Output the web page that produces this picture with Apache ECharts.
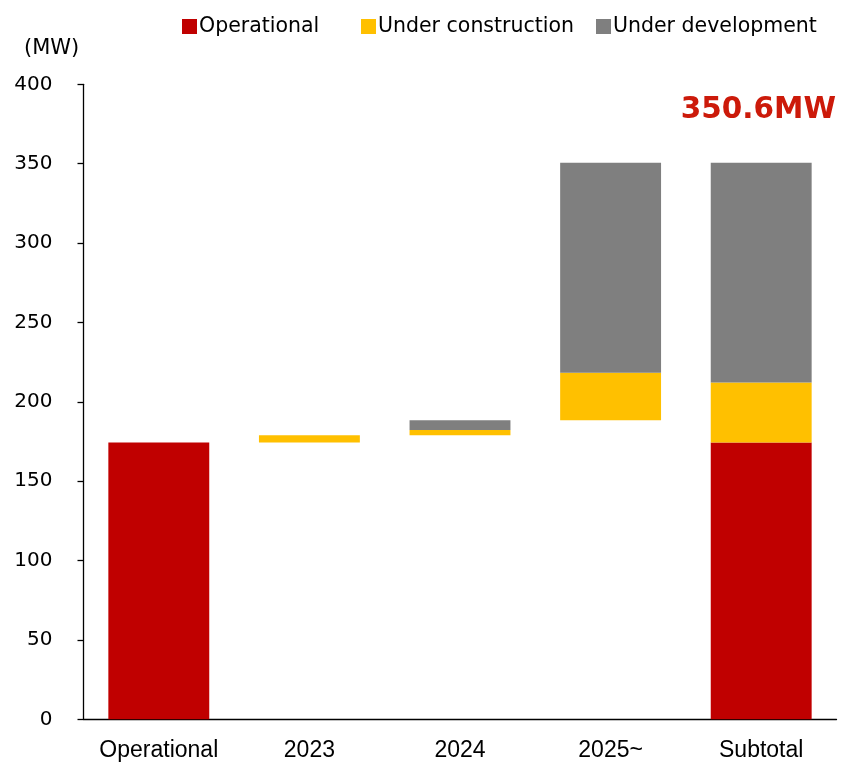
<!DOCTYPE html>
<html>
<head>
<meta charset="utf-8">
<script src="https://cdn.jsdelivr.net/npm/echarts@6/dist/echarts.min.js"></script>
<style>html,body{margin:0;padding:0;background:#fff;}#c{width:842px;height:765px;}</style>
</head>
<body>
<div id="c"></div>
<script>
const categories = ['Operational', '2023', '2024', '2025~', 'Subtotal'];
const operational = [174.4, null, null, null, 174.4];
const underConstruction = [null, 4.6, 3.2, 30.0, 37.8];
const underDevelopment = [null, null, 6.1, 132.3, 138.4];
const yTicks = [0, 50, 100, 150, 200, 250, 300, 350, 400];
const totalLabel = '350.6MW';

// invisible base for waterfall steps (running cumulative of previous columns)
const base = [];
let run = 0;
for (let i = 0; i < categories.length; i++) {
  const isTotal = categories[i] === 'Subtotal';
  base.push(i === 0 || isTotal ? 0 : run);
  if (!isTotal) run += (operational[i] || 0) + (underConstruction[i] || 0) + (underDevelopment[i] || 0);
}

const chart = echarts.init(document.getElementById('c'), null, {renderer: 'canvas'});
const legendCommon = {
  top: 11, icon: 'rect', itemWidth: 15, itemHeight: 15, itemGap: 0,
  textStyle: {fontFamily: 'DejaVu Sans', fontSize: 20.5, color: '#000', padding: [0,0,0,-3]},
  selectedMode: false
};
chart.setOption({
  animation: false,
  grid: {left: 83.5, right: 5.5, top: 84.3, bottom: 45.7, containLabel: false},
  legend: [
    Object.assign({}, legendCommon, {left: 177, data: ['Operational']}),
    Object.assign({}, legendCommon, {left: 356, data: ['Under construction']}),
    Object.assign({}, legendCommon, {left: 591, data: ['Under development']})
  ],
  xAxis: {
    type: 'category', data: categories,
    axisLine: {lineStyle: {color: '#000', width: 1.3}},
    axisTick: {show: false},
    axisLabel: {fontFamily: 'Liberation Sans', fontSize: 23, color: '#000', margin: 20, interval: 0}
  },
  yAxis: {
    type: 'value', min: yTicks[0], max: yTicks[yTicks.length - 1], interval: 50,
    splitLine: {show: false},
    axisLine: {show: true, lineStyle: {color: '#000', width: 1.3}},
    axisTick: {show: true, length: 6, lineStyle: {color: '#000', width: 1.3}},
    axisLabel: {fontFamily: 'DejaVu Sans', fontSize: 20, color: '#000', margin: 31}
  },
  graphic: [
    {type: 'text', left: 24, top: 38, style: {text: '(MW)', font: '21px "DejaVu Sans"', fill: '#000'}},
    {type: 'text', right: 6, top: 95, style: {text: totalLabel, font: 'bold 29.5px "DejaVu Sans"', fill: '#CC1A0A'}}
  ],
  series: [
    {name: 'base', type: 'bar', stack: 't', barWidth: '67%', itemStyle: {color: 'transparent'}, data: base, silent: true},
    {name: 'Operational', type: 'bar', stack: 't', itemStyle: {color: '#C00000'}, data: operational},
    {name: 'Under construction', type: 'bar', stack: 't', itemStyle: {color: '#FFC000'}, data: underConstruction},
    {name: 'Under development', type: 'bar', stack: 't', itemStyle: {color: '#7F7F7F'}, data: underDevelopment}
  ]
});
</script>
</body>
</html>
